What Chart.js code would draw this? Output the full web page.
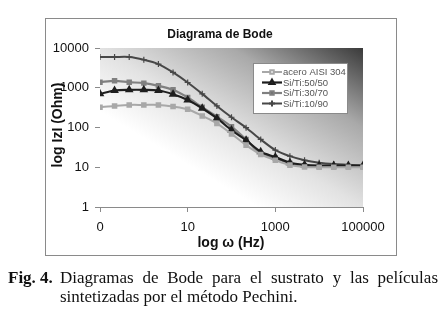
<!DOCTYPE html>
<html>
<head>
<meta charset="utf-8">
<script src="https://cdn.jsdelivr.net/npm/chart.js@4/dist/chart.umd.min.js"></script>
<style>
  html, body { margin: 0; padding: 0; background: #fff; }
  #wrap { position: relative; width: 440px; height: 326px; overflow: hidden; }
  #frame { position: absolute; left: 45px; top: 18px; width: 350px; height: 236px; border: 1px solid #8a8a8a; }
  #chart { position: absolute; left: 0; top: 0; }
  #caption { position: absolute; left: 8px; top: 268px; width: 430px; font-family: "Liberation Serif", "Times New Roman", serif; font-size: 17px; line-height: 19px; color: #111; display: flex; }
  #caption .lab { font-weight: bold; width: 52px; flex: none; white-space: nowrap; }
  #caption .txt { flex: 1; }
  #caption .l1 { text-align: justify; text-align-last: justify; white-space: nowrap; }
</style>
</head>
<body>
<div id="wrap">
  <div id="frame"></div>
  <canvas id="chart" width="440" height="326"></canvas>
  <div id="caption"><div class="lab">Fig. 4.</div><div class="txt"><div class="l1">Diagramas de Bode para el sustrato y las películas</div><div>sintetizadas por el método Pechini.</div></div></div>
</div>
<script>
// frequencies (Hz), three points per decade
const freq = [0.1, 0.215, 0.464, 1, 2.15, 4.64, 10, 21.5, 46.4, 100, 215, 464, 1000, 2150, 4640, 10000, 21500, 46400, 100000];

// |Z| in Ohm
const acero = [323, 349, 370, 370, 370, 336, 288, 195, 127, 69, 36, 21, 15, 11.3, 10.2, 10, 10, 10, 10];
const siTi5050 = [702, 853, 886, 886, 853, 689, 495, 305, 171, 86, 48, 24.5, 18, 13, 11.5, 11, 11, 11, 11];
const siTi3070 = [1383, 1496, 1383, 1306, 1117, 886, 567, 323, 188, 105, 50, 22, 17, 12.5, 11, 10.5, 10.5, 10.5, 10.5];
const siTi1090 = [5930, 5930, 5930, 5070, 3940, 2430, 1357, 702, 349, 181, 99, 50, 27, 19, 15, 13, 12, 11.5, 11];

const xTicks = [0.1, 10, 1000, 100000];
const yTicks = [1, 10, 100, 1000, 10000];

const seriesNames = ['acero AISI 304', 'Si/Ti:50/50', 'Si/Ti:30/70', 'Si/Ti:10/90'];

function pts(vals) {
    return freq.map((f, i) => ({x: f, y: vals[i]}));
}

const datasets = [
    {label: seriesNames[0], data: pts(acero), borderColor: '#a8a8a8', backgroundColor: '#a8a8a8', borderWidth: 2, pointStyle: 'rect', pointRadius: 2.5},
    {label: seriesNames[1], data: pts(siTi5050), borderColor: '#1e1e1e', backgroundColor: '#1e1e1e', borderWidth: 2.2, pointStyle: 'triangle', pointRadius: 2.8},
    {label: seriesNames[2], data: pts(siTi3070), borderColor: '#808080', backgroundColor: '#808080', borderWidth: 2.2, pointStyle: 'rect', pointRadius: 2.3},
    {label: seriesNames[3], data: pts(siTi1090), borderColor: '#474747', backgroundColor: '#474747', borderWidth: 2, pointStyle: 'cross', pointRadius: 3, pointBorderWidth: 1.2},
];

// background gradient, titles and the boxed legend
const decor = {
    id: 'decor',
    beforeDatasetsDraw(chart) {
        const {ctx, chartArea: a} = chart;
        const W = a.right - a.left, H = a.bottom - a.top;
        const k = 2 * W * H / (W * W + H * H);
        const g = ctx.createLinearGradient(a.left, a.bottom, a.left + H * k, a.bottom - W * k);
        g.addColorStop(0, '#ffffff');
        g.addColorStop(0.3, '#ffffff');
        g.addColorStop(0.5, '#e2e2e2');
        g.addColorStop(0.75, '#a9a9a9');
        g.addColorStop(1, '#3a3a3a');
        ctx.save();
        ctx.fillStyle = g;
        ctx.fillRect(a.left, a.top, W, H);
        ctx.restore();
    },
    afterDraw(chart) {
        const ctx = chart.ctx;
        ctx.save();
        ctx.fillStyle = '#111';
        ctx.textAlign = 'center';
        ctx.textBaseline = 'middle';
        ctx.font = 'bold 12px "Liberation Sans", Arial, sans-serif';
        ctx.fillText('Diagrama de Bode', 220, 35);
        ctx.font = 'bold 14px "Liberation Sans", Arial, sans-serif';
        ctx.fillText('log ω (Hz)', 231, 243);
        ctx.save();
        ctx.translate(58, 125);
        ctx.rotate(-Math.PI / 2);
        ctx.fillText('log IzI (Ohm)', 0, 0);
        ctx.restore();

        // legend box
        const lx = 253, ly = 63, lw = 94, lh = 50;
        ctx.fillStyle = '#fff';
        ctx.fillRect(lx, ly, lw, lh);
        ctx.strokeStyle = '#8a8a8a';
        ctx.lineWidth = 1;
        ctx.strokeRect(lx + 0.5, ly + 0.5, lw, lh);
        ctx.textAlign = 'left';
        ctx.font = '9.5px "Liberation Sans", Arial, sans-serif';
        chart.data.datasets.forEach((ds, i) => {
            const y = 72 + i * 10.5;
            ctx.strokeStyle = ds.borderColor;
            ctx.lineWidth = ds.borderWidth;
            ctx.beginPath();
            ctx.moveTo(262, y);
            ctx.lineTo(282, y);
            ctx.stroke();
            Chart.helpers.drawPoint(ctx, {pointStyle: ds.pointStyle, radius: ds.pointRadius, borderWidth: ds.pointBorderWidth || 1}, 272, y);
            ctx.fillStyle = '#555';
            ctx.fillText(ds.label, 283, y + 0.5);
        });
        ctx.restore();
    }
};

new Chart(document.getElementById('chart'), {
    type: 'line',
    data: {datasets},
    plugins: [decor],
    options: {
        responsive: false,
        animation: false,
        layout: {padding: {left: 45, right: 77, top: 48, bottom: 79}},
        plugins: {legend: {display: false}, title: {display: false}, tooltip: {enabled: false}},
        elements: {line: {tension: 0.3}, point: {borderWidth: 1}},
        scales: {
            x: {
                type: 'logarithmic',
                min: 0.1,
                max: 100000,
                afterBuildTicks: s => { s.ticks = xTicks.map(v => ({value: v})); },
                afterFit: s => { s.height = 40; },
                grid: {drawOnChartArea: false, tickLength: 5, color: '#8a8a8a'},
                border: {color: '#8a8a8a'},
                ticks: {
                    padding: 8,
                    color: '#111',
                    font: {family: '"Liberation Sans", Arial, sans-serif', size: 13},
                    maxRotation: 0,
                    callback: v => v === 0.1 ? '0' : String(v)
                }
            },
            y: {
                type: 'logarithmic',
                min: 1,
                max: 10000,
                afterBuildTicks: s => { s.ticks = yTicks.map(v => ({value: v})); },
                afterFit: s => { s.width = 55; },
                grid: {drawOnChartArea: false, tickLength: 5, color: '#8a8a8a'},
                border: {color: '#8a8a8a'},
                ticks: {
                    padding: 6,
                    color: '#111',
                    font: {family: '"Liberation Sans", Arial, sans-serif', size: 13},
                    callback: v => String(v)
                }
            }
        }
    }
});
</script>
</body>
</html>
